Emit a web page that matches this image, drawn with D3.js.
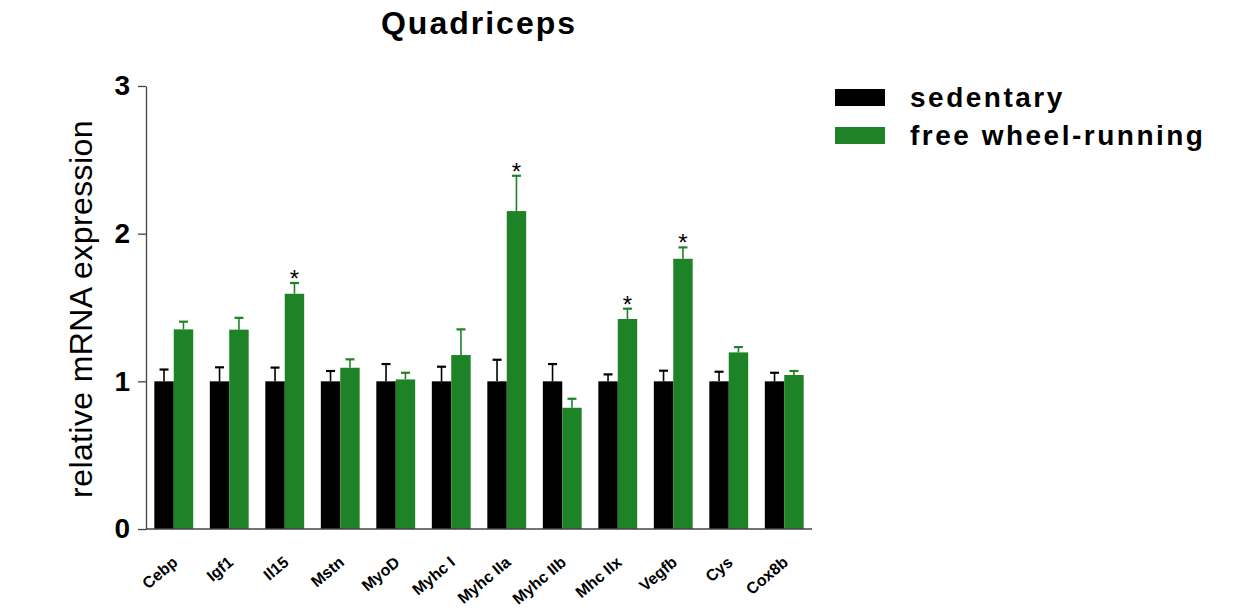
<!DOCTYPE html>
<html>
<head>
<meta charset="utf-8">
<script src="https://cdn.jsdelivr.net/npm/d3@7"></script>
<style>
  body { margin: 0; background: #fff; }
  text { font-family: Arial, "Liberation Sans", sans-serif; }
</style>
</head>
<body>
<svg id="chart" width="1248" height="611"></svg>
<script>
// chart data
const genes = ['Cebp', 'Igf1', 'Il15', 'Mstn', 'MyoD', 'Myhc I', 'Myhc IIa', 'Myhc IIb', 'Mhc IIx', 'Vegfb', 'Cys', 'Cox8b'];
const sedentary = [1, 1, 1, 1, 1, 1, 1, 1, 1, 1, 1, 1];
const sedentaryErr = [0.08, 0.095, 0.093, 0.07, 0.117, 0.099, 0.146, 0.117, 0.047, 0.072, 0.065, 0.058];
const running = [1.352, 1.35, 1.593, 1.092, 1.013, 1.178, 2.153, 0.821, 1.422, 1.83, 1.196, 1.043];
const runningErr = [0.052, 0.08, 0.073, 0.057, 0.045, 0.174, 0.239, 0.061, 0.07, 0.077, 0.036, 0.027];
const significant = ['Il15', 'Myhc IIa', 'Mhc IIx', 'Vegfb'];
const yTicks = [0, 1, 2, 3];
const seriesNames = ['sedentary', 'free wheel-running'];

const colors = { sedentary: '#000000', running: '#1e8226' };

const svg = d3.select('#chart');
const margin = { top: 86, right: 436, bottom: 82, left: 146 };
const width = 1248;
const height = 611;

const x0 = d3
  .scaleBand()
  .domain(genes)
  .range([margin.left, width - margin.right])
  .paddingInner(0.3)
  .paddingOuter(0.15);

const x1 = d3.scaleBand().domain(['sed', 'run']).range([0, x0.bandwidth()]);

const y = d3
  .scaleLinear()
  .domain([0, 3])
  .range([height - margin.bottom, margin.top]);

// title
svg
  .append('text')
  .attr('x', 479)
  .attr('y', 34)
  .attr('text-anchor', 'middle')
  .attr('font-size', 32)
  .attr('font-weight', 'bold')
  .attr('letter-spacing', 2)
  .text('Quadriceps');

// y axis
const yAxis = svg
  .append('g')
  .attr('transform', `translate(${margin.left},0)`)
  .call(
    d3.axisLeft(y).tickValues(yTicks).tickFormat(d3.format('d')).tickSize(8).tickSizeOuter(0).tickPadding(8)
  );
yAxis.select('.domain').attr('stroke', '#444').attr('stroke-width', 1.3);
yAxis.selectAll('.tick line').attr('stroke', '#444').attr('stroke-width', 1.3);
yAxis
  .selectAll('.tick text')
  .attr('font-size', 28)
  .attr('font-weight', 'bold')
  .attr('fill', '#000')
  .attr('font-family', 'Arial, "Liberation Sans", sans-serif');

svg
  .append('text')
  .attr('transform', `translate(92,309) rotate(-90)`)
  .attr('text-anchor', 'middle')
  .attr('font-size', 32)
  .attr('letter-spacing', 0.4)
  .text('relative mRNA expression');

// bars
const groups = svg
  .selectAll('.group')
  .data(genes)
  .join('g')
  .attr('class', 'group')
  .attr('transform', (d) => `translate(${x0(d)},0)`);

groups
  .append('rect')
  .attr('x', x1('sed'))
  .attr('width', x1.bandwidth())
  .attr('y', (d, i) => y(sedentary[i]))
  .attr('height', (d, i) => y(0) - y(sedentary[i]))
  .attr('fill', colors.sedentary);

groups
  .append('rect')
  .attr('x', x1('run'))
  .attr('width', x1.bandwidth())
  .attr('y', (d, i) => y(running[i]))
  .attr('height', (d, i) => y(0) - y(running[i]))
  .attr('fill', colors.running);

// error bars
const errorBar = (g, key, vals, errs, color) => {
  const cx = x1(key) + x1.bandwidth() / 2;
  g.append('line')
    .attr('x1', cx)
    .attr('x2', cx)
    .attr('y1', (d, i) => y(vals[i]))
    .attr('y2', (d, i) => y(vals[i] + errs[i]))
    .attr('stroke', color)
    .attr('stroke-width', 1.6);
  g.append('line')
    .attr('x1', cx - 4.5)
    .attr('x2', cx + 4.5)
    .attr('y1', (d, i) => y(vals[i] + errs[i]))
    .attr('y2', (d, i) => y(vals[i] + errs[i]))
    .attr('stroke', color)
    .attr('stroke-width', 2.2);
};
errorBar(groups, 'sed', sedentary, sedentaryErr, colors.sedentary);
errorBar(groups, 'run', running, runningErr, colors.running);

// significance stars
groups
  .filter((d) => significant.includes(d))
  .append('text')
  .attr('x', x1('run') + x1.bandwidth() / 2)
  .attr('y', (d) => {
    const i = genes.indexOf(d);
    return y(running[i] + runningErr[i]) + 4;
  })
  .attr('text-anchor', 'middle')
  .attr('font-size', 24)
  .text('*');

// x axis
svg
  .append('line')
  .attr('x1', margin.left)
  .attr('x2', width - margin.right)
  .attr('y1', y(0))
  .attr('y2', y(0))
  .attr('stroke', '#444')
  .attr('stroke-width', 1.3);

svg
  .selectAll('.xlabel')
  .data(genes)
  .join('text')
  .attr('class', 'xlabel')
  .attr('transform', (d) => `translate(${x0(d) + x0.bandwidth() / 2 + 5},${y(0) + 35}) rotate(-40)`)
  .attr('text-anchor', 'end')
  .attr('font-size', 16)
  .attr('font-weight', 'bold')
  .text((d) => d);

// legend
const legend = svg
  .selectAll('.legend')
  .data(seriesNames)
  .join('g')
  .attr('class', 'legend')
  .attr('transform', (d, i) => `translate(835,${89 + i * 38})`);

legend
  .append('rect')
  .attr('width', 50)
  .attr('height', 17)
  .attr('fill', (d, i) => (i === 0 ? colors.sedentary : colors.running));

legend
  .append('text')
  .attr('x', 75)
  .attr('y', 18)
  .attr('font-size', 28)
  .attr('font-weight', 'bold')
  .attr('letter-spacing', 2.5)
  .text((d) => d);
</script>
</body>
</html>
